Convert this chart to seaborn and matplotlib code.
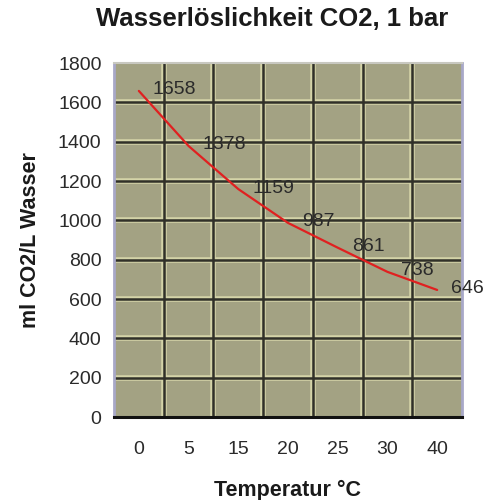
import matplotlib
matplotlib.use("Agg")
import matplotlib.pyplot as plt
import seaborn as sns
import pandas as pd

# CO2 solubility in water at 1 bar
temperatures = ["0", "5", "15", "20", "25", "30", "40"]
solubility = [1658, 1378, 1159, 987, 861, 738, 646]
y_ticks = [0, 200, 400, 600, 800, 1000, 1200, 1400, 1600, 1800]

df = pd.DataFrame({"pos": range(len(temperatures)), "temp": temperatures,
                   "ml": solubility})

sns.set_theme(style="white")
plt.rcParams["font.family"] = ["Liberation Sans", "DejaVu Sans"]

fig = plt.figure(figsize=(5, 5), dpi=100)
ax = fig.add_axes([0.228, 0.166, 0.696, 0.708])
ax.set_facecolor("#a3a283")

sns.lineplot(data=df, x="pos", y="ml", ax=ax, color="#e02020",
             linewidth=1.6, zorder=5)

n = len(temperatures)
ax.set_xlim(-0.5, n - 0.5)
ax.set_ylim(0, 1800)

# category axis: ticks on the boundaries, labels centred in each slot
bounds = [i - 0.5 for i in range(n + 1)]
ax.set_xticks(bounds)
ax.set_xticklabels([])
ax.set_xticks(range(n), minor=True)
ax.set_xticklabels(temperatures, minor=True)
ax.set_yticks(y_ticks)
ax.set_yticklabels([str(v) for v in y_ticks])

# gridlines: pale halo under a dark core
for b in bounds[1:-1]:
    ax.axvline(b, color="#d4d4a8", lw=4, zorder=1)
    ax.axvline(b, color="#303028", lw=1.8, zorder=2)
for v in y_ticks[1:-1]:
    ax.axhline(v, color="#d4d4a8", lw=4, zorder=1)
    ax.axhline(v, color="#303028", lw=1.8, zorder=2)

txt = "#2a2a2a"
ax.tick_params(axis="x", which="major", length=5, width=1.5,
               color="#222222", direction="out", pad=8)
ax.tick_params(axis="x", which="minor", length=0, pad=17,
               labelsize=14, labelcolor=txt)
ax.tick_params(axis="y", length=5, width=1.5, color="#222222",
               direction="out", pad=4, labelsize=14, labelcolor=txt)

for side, col, lw in [("left", "#a8a8c8", 2.0), ("right", "#a8a8c8", 2.0),
                      ("top", "#c8c8c0", 1.5), ("bottom", "#111111", 2.2)]:
    ax.spines[side].set_visible(True)
    ax.spines[side].set_color(col)
    ax.spines[side].set_linewidth(lw)

# value labels right of each point
for x, v in zip(df["pos"], df["ml"]):
    ax.annotate(str(v), (x, v), xytext=(14, 1), textcoords="offset pixels",
                ha="left", va="center", fontsize=14, color=txt,
                annotation_clip=False, zorder=6)

ax.set_xlabel("Temperatur °C", fontsize=15.5, fontweight="bold",
              color="#1a1a1a", labelpad=16)
ax.set_ylabel("ml CO2/L Wasser", fontsize=15.5, fontweight="bold",
              color="#1a1a1a", labelpad=12)
fig.suptitle("Wasserlöslichkeit CO2, 1 bar", x=0.544, y=0.985,
             fontsize=18.5, fontweight="bold", color="#1a1a1a")

fig.savefig("out.png", dpi=100, facecolor="white")
